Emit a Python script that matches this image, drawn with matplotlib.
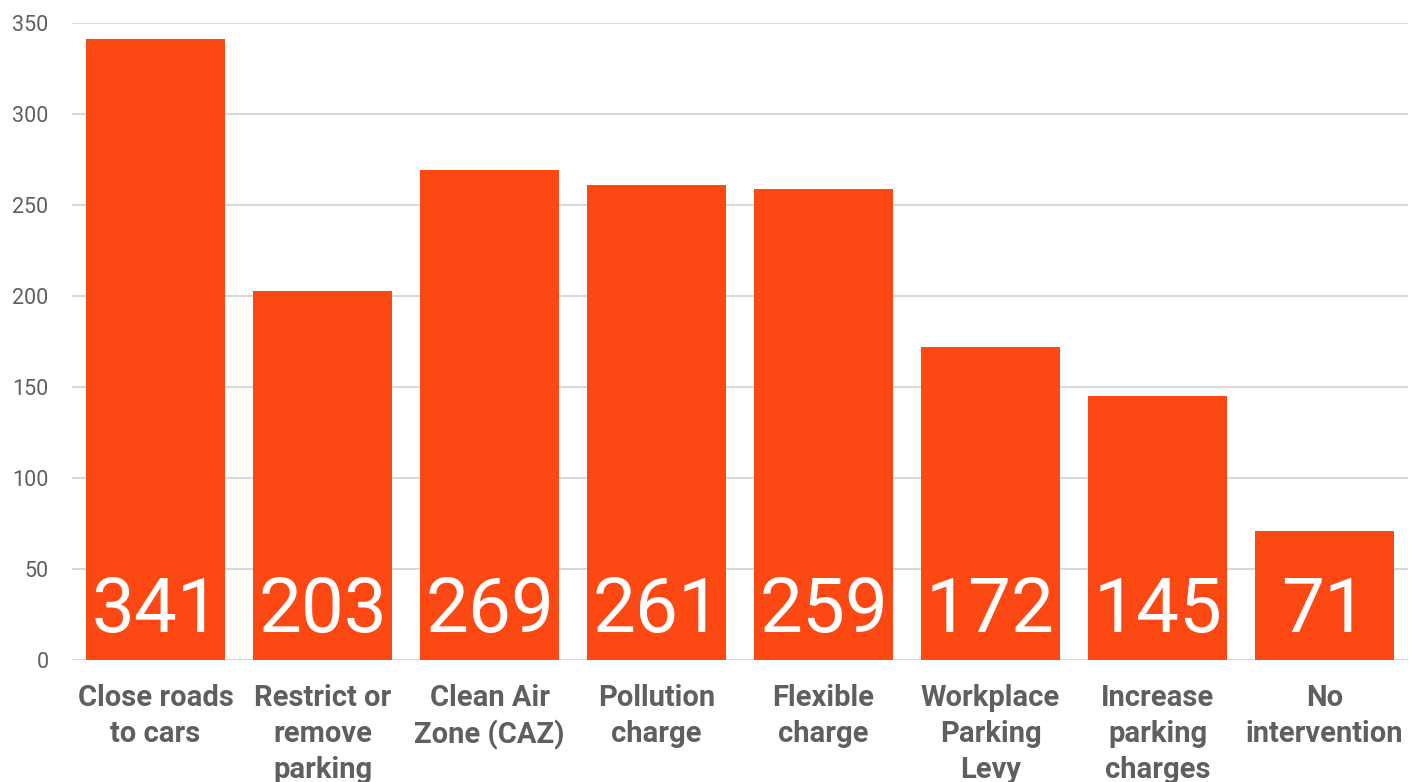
import matplotlib
matplotlib.use("Agg")
import matplotlib.pyplot as plt

categories = ["Close roads\nto cars", "Restrict or\nremove\nparking", "Clean Air\nZone (CAZ)",
              "Pollution\ncharge", "Flexible\ncharge", "Workplace\nParking\nLevy",
              "Increase\nparking\ncharges", "No\nintervention"]
values = [341, 203, 269, 261, 259, 172, 145, 71]
yticks = [0, 50, 100, 150, 200, 250, 300, 350]

plt.rcParams['font.family'] = ['Roboto', 'DejaVu Sans']

fig = plt.figure(figsize=(14.19, 7.82), dpi=100)
ax = fig.add_axes([72/1419, 1-660/782, (1408-72)/1419, (660-23)/782])

x = list(range(len(values)))
ax.bar(x, values, width=0.83, color='#fc4913', zorder=3)
ax.set_xlim(-0.5, len(values)-0.5)
ax.set_ylim(0, 350)
ax.set_yticks(yticks)
ax.set_yticklabels([str(t) for t in yticks], fontsize=15.5, color='#5f5f5f')
ax.yaxis.grid(True, color='#d9d9d9', linewidth=1.5, zorder=0)
ax.tick_params(axis='y', length=0, pad=17)
ax.set_xticks(x)
ax.set_xticklabels(categories, fontsize=21, fontweight='bold', color='#5f5f5f', linespacing=1.37)
ax.tick_params(axis='x', length=0, pad=17)
for s in ax.spines.values():
    s.set_visible(False)

for xi, v in zip(x, values):
    ax.annotate(str(v), xy=(xi, 0), xytext=(0, 20), textcoords='offset points',
                ha='center', va='baseline', fontsize=55, color='white', zorder=4)

fig.savefig('out.png', dpi=100)
